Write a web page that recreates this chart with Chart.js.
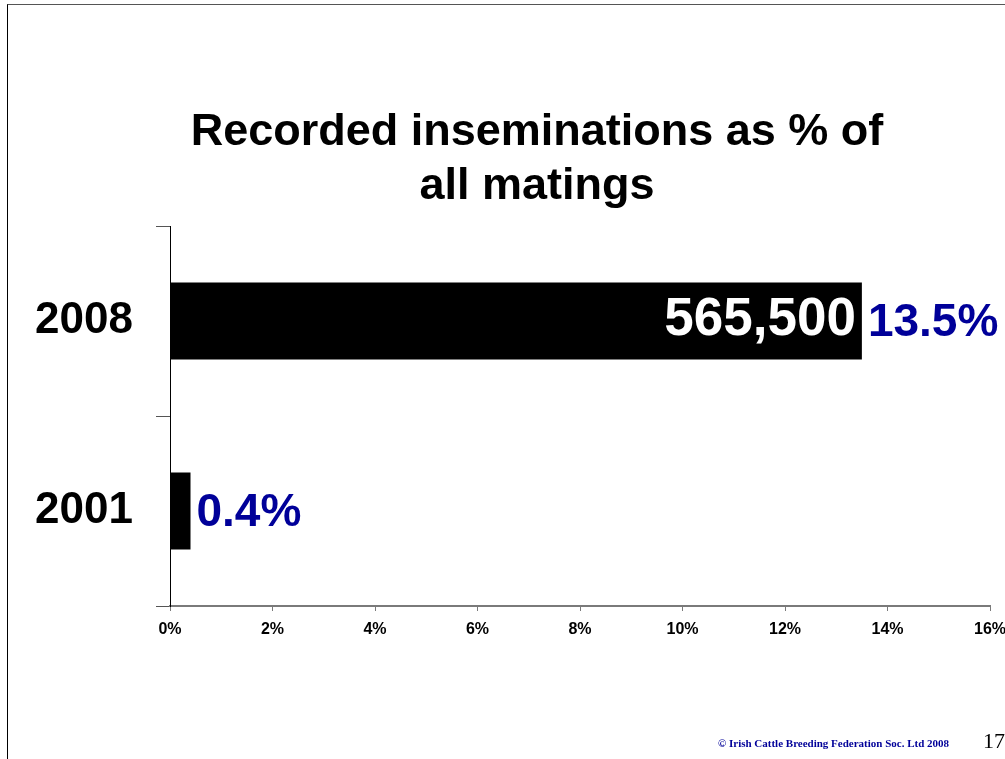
<!DOCTYPE html>
<html>
<head>
<meta charset="utf-8">
<title>Recorded inseminations as % of all matings</title>
<script src="https://cdn.jsdelivr.net/npm/chart.js@4/dist/chart.umd.min.js"></script>
<style>
  html, body { margin: 0; padding: 0; background: #fff; overflow: hidden; }
  #slide { position: relative; width: 1005px; height: 759px; overflow: hidden; }
  #frame { position: absolute; left: 7px; top: 4px; width: 1100px; height: 800px;
           border-top: 1px solid #555; border-left: 1px solid #000; }
  #wrap { position: absolute; left: 0; top: 0; width: 1080px; height: 759px; }
  #footer { position: absolute; left: 718px; top: 737px; font: bold 11px "Liberation Serif", "Times New Roman", serif;
            color: #000099; white-space: nowrap; }
  #page { position: absolute; left: 983px; top: 728px; font: 22px "Liberation Serif", "Times New Roman", serif;
          color: #000; }
</style>
</head>
<body>
<div id="slide">
  <div id="frame"></div>
  <div id="wrap"><canvas id="chart" width="1080" height="759"></canvas></div>
  <div id="footer">© Irish Cattle Breeding Federation Soc. Ltd 2008</div>
  <div id="page">17</div>
</div>
<script>
// Years shown on the category axis (top to bottom)
const years = ['2008', '2001'];
// Recorded inseminations as a share of all matings, in percent
const sharePct = [13.5, 0.4];
// Number of recorded inseminations (shown inside the bar where known)
const inseminations = [565500, null];
// Percentage axis tick values
const xTicks = [0, 2, 4, 6, 8, 10, 12, 14, 16];

const SANS = '"Liberation Sans", Arial, Helvetica, sans-serif';
const NAVY = '#000099';

const barLabels = {
  id: 'barLabels',
  afterDatasetsDraw(chart) {
    const ctx = chart.ctx;
    const meta = chart.getDatasetMeta(0);
    ctx.save();
    ctx.textBaseline = 'middle';
    meta.data.forEach((bar, i) => {
      const pct = sharePct[i];
      ctx.fillStyle = NAVY;
      ctx.textAlign = 'left';
      ctx.font = 'bold 46px ' + SANS;
      ctx.fillText(pct.toFixed(1) + '%', bar.x + 6, bar.y + 2);
      const n = inseminations[i];
      if (n != null) {
        ctx.fillStyle = '#fff';
        ctx.textAlign = 'right';
        ctx.font = 'bold 53px ' + SANS;
        ctx.fillText(n.toLocaleString('en-US'), bar.x - 6, bar.y - 1);
      }
    });
    ctx.restore();
  }
};

new Chart(document.getElementById('chart'), {
  type: 'bar',
  data: {
    labels: years,
    datasets: [{
      data: sharePct,
      backgroundColor: '#000',
      borderWidth: 0,
      barPercentage: 0.405,
      categoryPercentage: 1
    }]
  },
  options: {
    indexAxis: 'y',
    responsive: false,
    animation: false,
    devicePixelRatio: 1,
    layout: { padding: { left: 0, right: 6, top: 0, bottom: 0 } },
    plugins: {
      legend: { display: false },
      tooltip: { enabled: false },
      title: {
        display: true,
        text: ['Recorded inseminations as % of', 'all matings'],
        color: '#000',
        font: { family: SANS, size: 45, weight: 'bold', lineHeight: 1.2 },
        padding: { top: 106, bottom: 12 }
      }
    },
    scales: {
      x: {
        type: 'linear',
        min: xTicks[0],
        max: xTicks[xTicks.length - 1],
        afterBuildTicks(scale) { scale.ticks = xTicks.map(v => ({ value: v })); },
        afterFit(scale) { scale.height = 153; },
        border: { color: '#7a7a7a', width: 2 },
        grid: { drawOnChartArea: false, drawTicks: true, tickLength: 5, color: '#7a7a7a', lineWidth: 1 },
        ticks: {
          color: '#000',
          padding: 9,
          maxRotation: 0,
          font: { family: SANS, size: 16, weight: 'bold' },
          callback: v => v + '%'
        }
      },
      y: {
        type: 'category',
        offset: true,
        afterFit(scale) { scale.width = 170; },
        border: { color: '#000', width: 1 },
        grid: { offset: true, drawOnChartArea: false, drawTicks: true, tickLength: 14, color: '#555', lineWidth: 1 },
        ticks: {
          color: '#000',
          padding: 23,
          font: { family: SANS, size: 44, weight: 'bold' }
        }
      },
      // empty right-hand margin so the title centres over the slide body
      margin: {
        type: 'category',
        axis: 'y',
        position: 'right',
        afterFit(scale) { scale.width = 84; },
        border: { display: false },
        grid: { display: false },
        ticks: { display: false }
      }
    }
  },
  plugins: [barLabels]
});
</script>
</body>
</html>
